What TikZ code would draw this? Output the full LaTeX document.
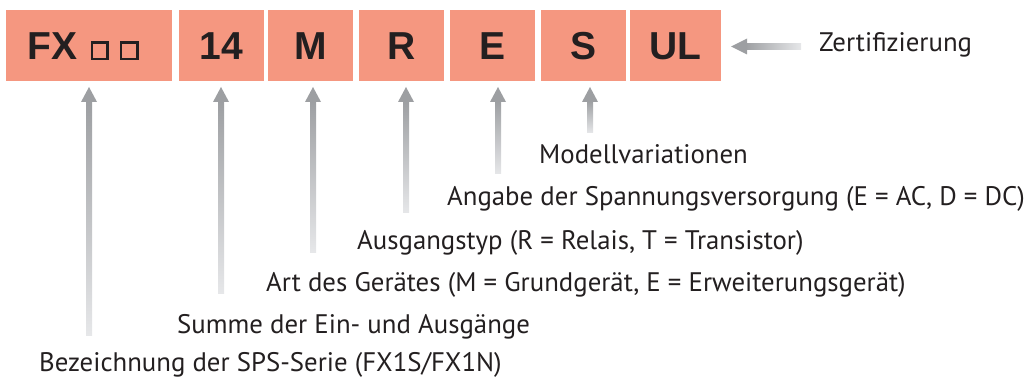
\documentclass[tikz,border=0pt]{standalone}
\usepackage{fontspec}
\setmainfont{PT Sans}
\newfontfamily\boxfont{Liberation Sans}
\usetikzlibrary{calc}
\definecolor{boxfill}{HTML}{F59780}
\definecolor{ink}{HTML}{231F20}
\definecolor{arrdark}{HTML}{9D9FA2}
\definecolor{arrlight}{HTML}{E6E7E9}
\tikzset{
  codebox/.style={fill=boxfill, draw=none, inner sep=0pt, minimum height=71pt,
    text height=50pt, text depth=21pt, font=\boxfont\bfseries\fontsize{39}{39}\selectfont, text=ink},
  desc/.style={anchor=base west, inner sep=0pt, text=ink, font=\fontsize{26.8}{26.8}\selectfont},
}
% upward gradient arrow: #1 = tail coordinate, #2 = tip coordinate
\newcommand\gradup[2]{%
  \shade[top color=arrdark, bottom color=arrlight] ($(#2)+(-3,14)$) rectangle ($(#1)+(3,0)$);
  \fill[arrdark] (#2) -- ($(#2)+(-8,15)$) -- ($(#2)+(8,15)$) -- cycle;
}
\begin{document}
\begin{tikzpicture}[x=1pt,y=-1pt]
\useasboundingbox (0,0) rectangle (1035,379);
% code boxes
\node[codebox, minimum width=166pt] (fx) at (89,45.5) {};
\node[codebox, minimum width=85pt] (n14) at (221.5,45.5) {14};
\node[codebox, minimum width=85pt] (m) at (310.5,45.5) {M};
\node[codebox, minimum width=85pt] (r) at (401.5,45.5) {R};
\node[codebox, minimum width=85pt] (e) at (492.5,45.5) {E};
\node[codebox, minimum width=85pt] (s) at (583.5,45.5) {S};
\node[codebox, minimum width=91pt] (ul) at (675.5,45.5) {UL};
\node[anchor=base west, inner sep=0pt, text=ink, font=\boxfont\bfseries\fontsize{39}{39}\selectfont] (fxt) at (27.5,60) {FX};
\draw[ink, line width=2.5pt] (92,42.5) rectangle (107.6,59);
\draw[ink, line width=2.5pt] (121,42.5) rectangle (137.4,59);
% descriptions
\node[desc] (zert) at (819,52) {Zertifizierung};
\node[desc] (modell) at (539,164) {Modellvariationen};
\node[desc] (spann) at (447,206) {Angabe der Spannungsversorgung (E = AC, D = DC)};
\node[desc] (ausg) at (357,249) {Ausgangstyp (R = Relais, T = Transistor)};
\node[desc] (art) at (266,291) {Art des Gerätes (M = Grundgerät, E = Erweiterungsgerät)};
\node[desc] (summe) at (177,333) {Summe der Ein- und Ausgänge};
\node[desc] (bez) at (39,371) {Bezeichnung der SPS-Serie (FX1S/FX1N)};
% arrow tips and tails
\coordinate (tipfx) at (89,87);   \coordinate (tailfx) at (89,335);
\coordinate (tip14) at (221,87);  \coordinate (tail14) at (221,293);
\coordinate (tipm) at (313,87);   \coordinate (tailm) at (313,252);
\coordinate (tipr) at (406,87);   \coordinate (tailr) at (406,213);
\coordinate (tipe) at (498,87);   \coordinate (taile) at (498,174);
\coordinate (tips) at (590,87);   \coordinate (tails) at (590,133);
\gradup{tailfx}{tipfx}
\gradup{tail14}{tip14}
\gradup{tailm}{tipm}
\gradup{tailr}{tipr}
\gradup{taile}{tipe}
\gradup{tails}{tips}
% horizontal arrow to UL
\coordinate (tipul) at (731,46.5);
\coordinate (tailul) at (801,46.5);
\shade[left color=arrdark, right color=arrlight] ($(tipul)+(14,-3)$) rectangle ($(tailul)+(0,3)$);
\fill[arrdark] (tipul) -- ($(tipul)+(16,-8)$) -- ($(tipul)+(16,8)$) -- cycle;
\end{tikzpicture}
\end{document}
